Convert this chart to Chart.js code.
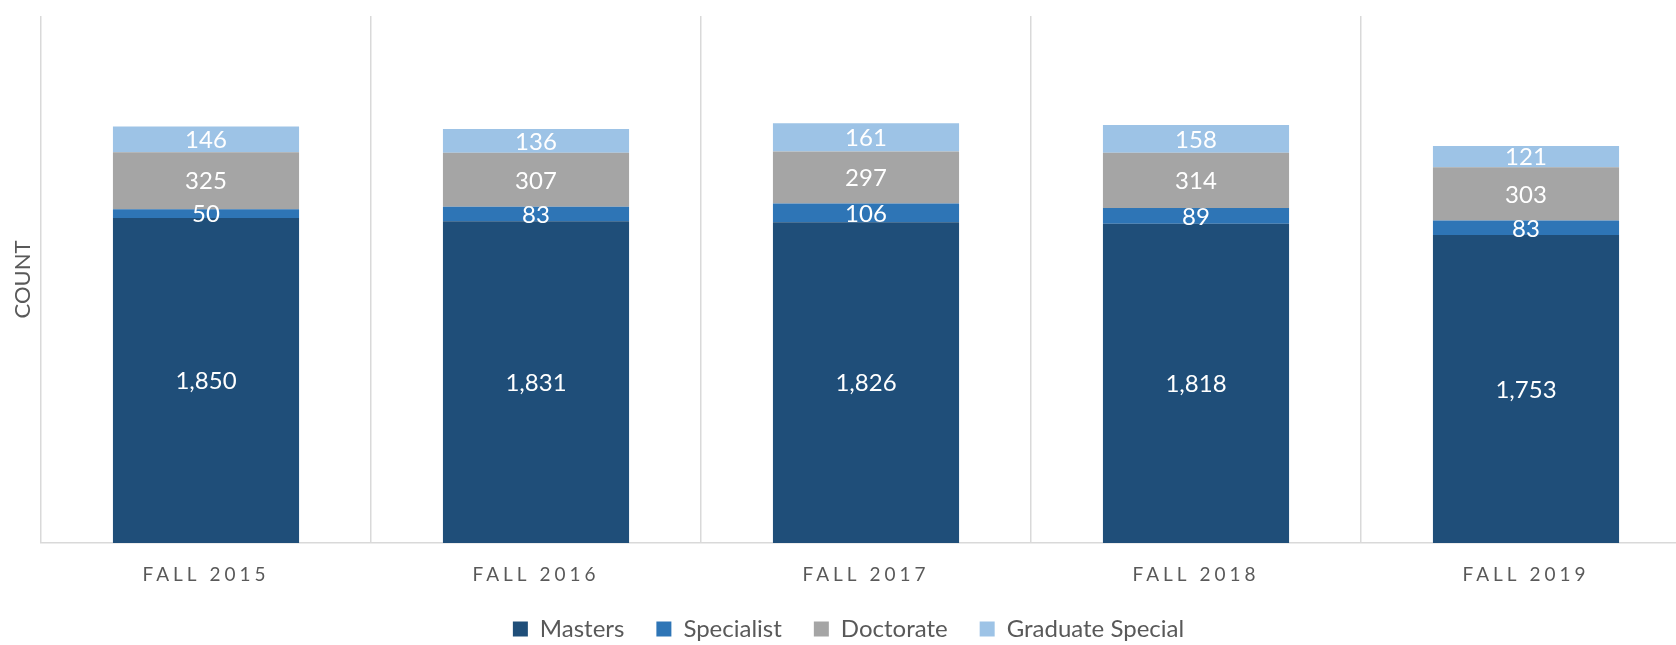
<!DOCTYPE html>
<html>
<head>
<meta charset="utf-8">
<script src="https://cdn.jsdelivr.net/npm/chart.js@4/dist/chart.umd.min.js"></script>
<style>
  html, body { margin: 0; padding: 0; overflow: hidden; background: #ffffff; }
  #wrap { position: relative; width: 1706px; height: 651px; }
</style>
</head>
<body>
<div id="wrap"><canvas id="c"></canvas></div>
<script>
const categories = ["FALL 2015", "FALL 2016", "FALL 2017", "FALL 2018", "FALL 2019"];
const masters = [1850, 1831, 1826, 1818, 1753];
const specialist = [50, 83, 106, 89, 83];
const doctorate = [325, 307, 297, 314, 303];
const graduateSpecial = [146, 136, 161, 158, 121];
const seriesNames = ["Masters", "Specialist", "Doctorate", "Graduate Special"];
const seriesColors = ["#1F4E79", "#2E75B6", "#A5A5A5", "#9DC3E6"];
const yAxisTitle = "COUNT";

const FONT = "Lato, 'Open Sans', sans-serif";

const valueLabels = {
  id: 'valueLabels',
  beforeDraw(chart) {
    chart.ctx.letterSpacing = '0px';
  },
  afterDatasetsDraw(chart) {
    const ctx = chart.ctx;
    ctx.save();
    ctx.font = "24px " + FONT;
    ctx.fillStyle = '#ffffff';
    ctx.textAlign = 'center';
    ctx.textBaseline = 'middle';
    chart.data.datasets.forEach((ds, di) => {
      const meta = chart.getDatasetMeta(di);
      meta.data.forEach((el, i) => {
        const p = el.getProps(['x', 'y', 'base'], true);
        const v = ds.data[i];
        ctx.fillText(v.toLocaleString('en-US'), p.x, (p.y + p.base) / 2 + 1);
      });
    });
    ctx.restore();
    // letter spacing for the category tick labels (drawn in a later layer)
    ctx.letterSpacing = '4px';
  },
  afterDraw(chart) {
    chart.ctx.letterSpacing = '0px';
  }
};

const data = {
  labels: categories,
  datasets: [
    { label: seriesNames[0], data: masters, backgroundColor: seriesColors[0] },
    { label: seriesNames[1], data: specialist, backgroundColor: seriesColors[1] },
    { label: seriesNames[2], data: doctorate, backgroundColor: seriesColors[2] },
    { label: seriesNames[3], data: graduateSpecial, backgroundColor: seriesColors[3] }
  ].map(d => Object.assign(d, { barPercentage: 0.564, categoryPercentage: 1.0, borderWidth: 0 }))
};

new Chart(document.getElementById('c'), {
  type: 'bar',
  data: data,
  plugins: [valueLabels],
  options: {
    responsive: true,
    maintainAspectRatio: false,
    animation: false,
    layout: { padding: { left: 6, right: 15, top: 16, bottom: 0 } },
    plugins: {
      legend: {
        position: 'bottom',
        align: 'center',
        labels: {
          boxWidth: 15,
          boxHeight: 15,
          padding: 32,
          color: '#595959',
          font: { family: FONT, size: 24 }
        }
      },
      tooltip: { enabled: false }
    },
    scales: {
      x: {
        stacked: true,
        offset: true,
        afterFit(scale) { scale.height = 42; },
        grid: { display: true, offset: true, color: '#D9D9D9', lineWidth: 1.5, drawTicks: false, tickLength: 0 },
        border: { display: true, color: '#D9D9D9', width: 1.5 },
        ticks: {
          z: 1,
          color: '#595959',
          padding: 19,
          font: { family: FONT, size: 19, lineHeight: 1.368 },
          maxRotation: 0,
          autoSkip: false
        }
      },
      y: {
        stacked: true,
        min: 0,
        max: 3000,
        grid: { display: false, drawTicks: false, tickLength: 0 },
        border: { display: false },
        ticks: { display: false },
        title: {
          display: true,
          text: yAxisTitle,
          color: '#595959',
          font: { family: FONT, size: 22, lineHeight: 1.2 },
          padding: { top: 4, bottom: 4.6 }
        }
      }
    }
  }
});
</script>
</body>
</html>
